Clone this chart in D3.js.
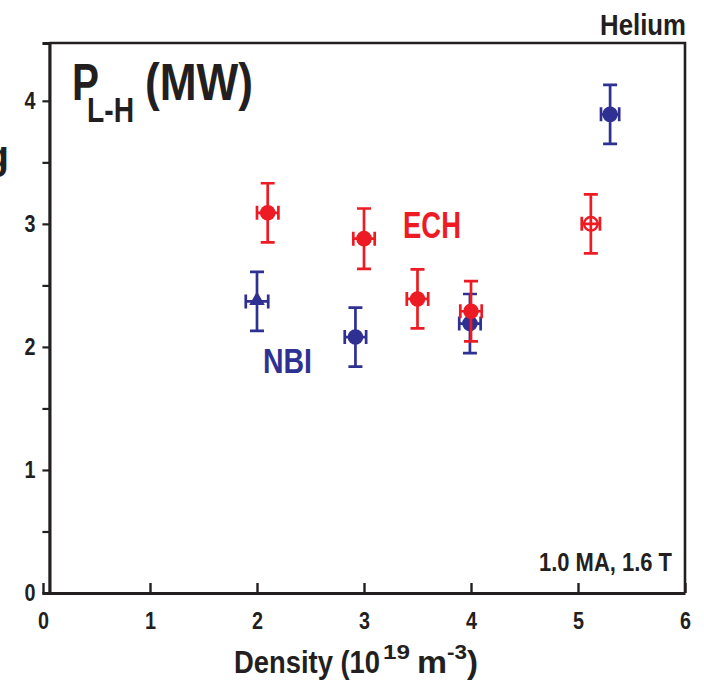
<!DOCTYPE html>
<html>
<head>
<meta charset="utf-8">
<script src="https://cdn.jsdelivr.net/npm/d3@7"></script>
<style>
  body { margin: 0; background: #fff; }
  svg text { font-family: "Liberation Sans", Arial, sans-serif; font-weight: bold; }
</style>
</head>
<body>
<div id="chart"></div>
<script>
// ECH points (red), filled circles
var echDensity = [2.1, 3.0, 3.5, 4.0];
var echPower = [3.09, 2.88, 2.39, 2.29];
var echPowerErr = [0.24, 0.245, 0.24, 0.245];
var echDensityErr = [0.1, 0.1, 0.1, 0.1];
// ECH open marker
var echOpenDensity = [5.12];
var echOpenPower = [3.0];
var echOpenPowerErr = [0.24];
var echOpenDensityErr = [0.085];
// NBI points (blue)
var nbiDensity = [2.0, 2.92, 3.99, 5.3];
var nbiPower = [2.37, 2.08, 2.19, 3.89];
var nbiPowerErr = [0.24, 0.24, 0.24, 0.24];
var nbiDensityErr = [0.105, 0.1, 0.1, 0.085];
var nbiMarker = ["triangle", "circle", "circle", "circle"];

var xTicks = [0, 1, 2, 3, 4, 5, 6];
var yTicks = [0, 0.5, 1, 1.5, 2, 2.5, 3, 3.5, 4];
var yLabels = [0, 1, 2, 3, 4];

var red = "#ED1C24", blue = "#2E3192", ink = "#231F20";

var svg = d3.select("#chart").append("svg").attr("width", 704).attr("height", 680);

var x = d3.scaleLinear().domain([0, 6]).range([43, 685]);
var y = d3.scaleLinear().domain([0, 4.47]).range([593, 43]);

// frame (top + right)
svg.append("path")
  .attr("d", "M" + x(0.06) + "," + y(4.47) + "H" + x(6) + "V" + y(0))
  .attr("fill", "none").attr("stroke", ink).attr("stroke-width", 2.6);

// y axis
var yAxis = svg.append("g").attr("transform", "translate(" + x(0.06) + ",0)")
  .call(d3.axisLeft(y).tickValues(yTicks).tickSizeInner(7).tickSizeOuter(7).tickPadding(7)
    .tickFormat(function(d){ return yLabels.indexOf(d) >= 0 ? d3.format("d")(d) : ""; }));
yAxis.select(".domain").attr("stroke", ink).attr("stroke-width", 3.2);
yAxis.selectAll(".tick line").attr("stroke", ink).attr("stroke-width", 2.2);
yAxis.selectAll(".tick text").attr("font-size", 23).attr("fill", ink)
  .attr("font-family", "Liberation Sans, Arial, sans-serif").attr("font-weight", "bold")
  .attr("textLength", function(d){ return yLabels.indexOf(d) >= 0 ? 11 : null; })
  .attr("lengthAdjust", "spacingAndGlyphs");

// x axis, ticks pointing inward
var xAxis = svg.append("g").attr("transform", "translate(0," + y(0) + ")")
  .call(d3.axisBottom(x).tickValues(xTicks).tickSizeInner(-10).tickSizeOuter(0).tickPadding(20)
    .tickFormat(d3.format("d")));
xAxis.select(".domain").attr("stroke", ink).attr("stroke-width", 3.2);
xAxis.selectAll(".tick line").attr("stroke", ink).attr("stroke-width", 2.4);
xAxis.selectAll(".tick text").attr("font-size", 23).attr("fill", ink)
  .attr("font-family", "Liberation Sans, Arial, sans-serif").attr("font-weight", "bold")
  .attr("textLength", 11).attr("lengthAdjust", "spacingAndGlyphs");

function label(txt, px, py, size, len, color){
  return svg.append("text").attr("x", px).attr("y", py).attr("font-size", size)
    .attr("fill", color || ink).attr("textLength", len).attr("lengthAdjust", "spacingAndGlyphs")
    .text(txt);
}

// error bars + markers
function drawSeries(dens, pow, pErr, dErr, color, markers, open){
  var g = svg.append("g");
  var cap = 7;
  for(var i = 0; i < dens.length; i++){
    var cx = x(dens[i]), cy = y(pow[i]);
    var y0 = y(pow[i] - pErr[i]), y1 = y(pow[i] + pErr[i]);
    var x0 = x(dens[i] - dErr[i]), x1 = x(dens[i] + dErr[i]);
    var m = markers ? markers[i] : "circle";
    if(!open){
      if(m == "triangle"){
        g.append("path").attr("d", d3.symbol().type(d3.symbolTriangle).size(105)())
          .attr("transform", "translate(" + cx + "," + (cy - 1) + ")").attr("fill", color);
      } else {
        g.append("circle").attr("cx", cx).attr("cy", cy).attr("r", 7.8).attr("fill", color);
      }
    }
    var d = "M" + cx + "," + y0 + "V" + y1 +
            "M" + (cx - cap) + "," + y0 + "H" + (cx + cap) +
            "M" + (cx - cap) + "," + y1 + "H" + (cx + cap) +
            "M" + x0 + "," + cy + "H" + x1 +
            "M" + x0 + "," + (cy - cap) + "V" + (cy + cap) +
            "M" + x1 + "," + (cy - cap) + "V" + (cy + cap);
    g.append("path").attr("d", d).attr("fill", "none").attr("stroke", color).attr("stroke-width", 2.7);
    if(open){
      g.append("circle").attr("cx", cx).attr("cy", cy).attr("r", 6.8)
        .attr("fill", "none").attr("stroke", color).attr("stroke-width", 2.4);
    }
  }
}

drawSeries(nbiDensity, nbiPower, nbiPowerErr, nbiDensityErr, blue, nbiMarker, false);
drawSeries(echDensity, echPower, echPowerErr, echDensityErr, red, null, false);
drawSeries(echOpenDensity, echOpenPower, echOpenPowerErr, echOpenDensityErr, red, null, true);

// series labels
label("ECH", 403, 238, 37, 58, red);
label("NBI", 263, 373, 35, 49, blue);

// title P_L-H (MW)
label("P", 72, 100, 51, 27);
label("L-H", 87, 122, 35, 47);
label("(MW)", 145, 100, 51, 108);

// corner notes
label("Helium", 600, 35, 30, 86);
label("1.0 MA, 1.6 T", 539, 571, 25, 133);

// cut-off letter at the left edge
label("g", -15, 169, 41, 24);

// x axis title
label("Density (10", 234, 673, 32, 146);
label("19", 383, 659, 21, 27);
label("m", 417, 673, 32, 30);
label("-3", 447, 659, 21, 20);
label(")", 467, 673, 32, 11);
</script>
</body>
</html>
